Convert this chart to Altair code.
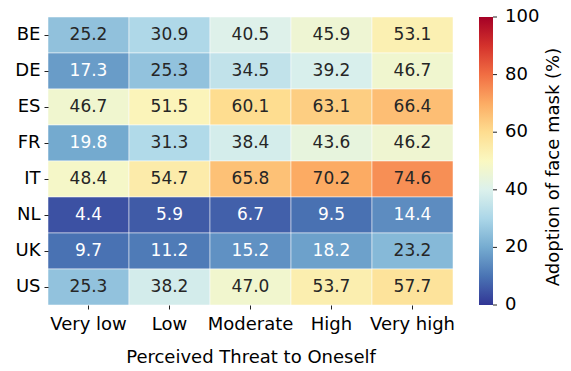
import altair as alt
import pandas as pd

countries = ["BE", "DE", "ES", "FR", "IT", "NL", "UK", "US"]
threat_levels = ["Very low", "Low", "Moderate", "High", "Very high"]
values = [
    [25.2, 30.9, 40.5, 45.9, 53.1],
    [17.3, 25.3, 34.5, 39.2, 46.7],
    [46.7, 51.5, 60.1, 63.1, 66.4],
    [19.8, 31.3, 38.4, 43.6, 46.2],
    [48.4, 54.7, 65.8, 70.2, 74.6],
    [4.4, 5.9, 6.7, 9.5, 14.4],
    [9.7, 11.2, 15.2, 18.2, 23.2],
    [25.3, 38.2, 47.0, 53.7, 57.7],
]
colorbar_ticks = [0, 20, 40, 60, 80, 100]
colorbar_title = "Adoption of face mask (%)"

rows = []
for c, vals in zip(countries, values):
    for t, v in zip(threat_levels, vals):
        rows.append({"country": c, "threat": t, "value": v})
df = pd.DataFrame(rows)
df_ticks = pd.DataFrame({"v": colorbar_ticks})

FONT = "DejaVu Sans"

base = alt.Chart(df).encode(
    x=alt.X("threat:N", sort=threat_levels,
            axis=alt.Axis(title="Perceived Threat to Oneself", labelAngle=0,
                          domain=False, tickSize=4, tickColor="#222",
                          labelFontSize=18, titleFontSize=18, labelColor="#000",
                          titleColor="#000", titleFontWeight="normal",
                          labelPadding=6, titlePadding=15, labelFont=FONT, titleFont=FONT)),
    y=alt.Y("country:N", sort=countries,
            axis=alt.Axis(title=None, domain=False, tickSize=4, tickColor="#222",
                          labelFontSize=18, labelColor="#000", labelPadding=4,
                          labelFont=FONT)),
)

heat = base.mark_rect(stroke="white", strokeWidth=0.5).encode(
    color=alt.Color("value:Q",
                    scale=alt.Scale(scheme="redyellowblue", reverse=True, domain=[0, 100]),
                    legend=alt.Legend(title=None, orient="right",
                                      gradientLength=288, gradientThickness=14,
                                      gradientStrokeWidth=0,
                                      values=colorbar_ticks,
                                      labelExpr="''",
                                      offset=26)),
)

text = base.mark_text(fontSize=17, font=FONT).encode(
    text=alt.Text("value:Q", format=".1f"),
    color=alt.condition(alt.datum.value < 21, alt.value("white"), alt.value("#262626")),
)

cb_y = alt.Y("v:Q", scale=alt.Scale(domain=[0, 100], nice=False, zero=False), axis=None)

cb_ticks = alt.Chart(df_ticks).mark_rule(color="#222", strokeWidth=1).encode(
    y=cb_y, x=alt.value(445), x2=alt.value(449),
)

cb_labels = alt.Chart(df_ticks).mark_text(
    fontSize=18, font=FONT, color="#000", align="left", baseline="middle"
).encode(y=cb_y, x=alt.value(457), text=alt.Text("v:Q"))

cb_title = alt.Chart(pd.DataFrame({"t": [colorbar_title]})).mark_text(
    angle=270, fontSize=18, font=FONT, color="#000", baseline="middle", align="center"
).encode(text="t:N", x=alt.value(506), y=alt.value(150))

chart = alt.layer(heat + text, alt.layer(cb_ticks, cb_labels), cb_title).resolve_scale(y="independent").properties(
    width=405, height=288,
    autosize=alt.AutoSizeParams(type="none"),
    padding={"left": 40, "top": 9, "right": 110, "bottom": 64},
).configure_view(stroke=None).configure_scale(bandPaddingInner=0)

chart.save("out.html", embed_options={"renderer": "svg", "actions": False})
